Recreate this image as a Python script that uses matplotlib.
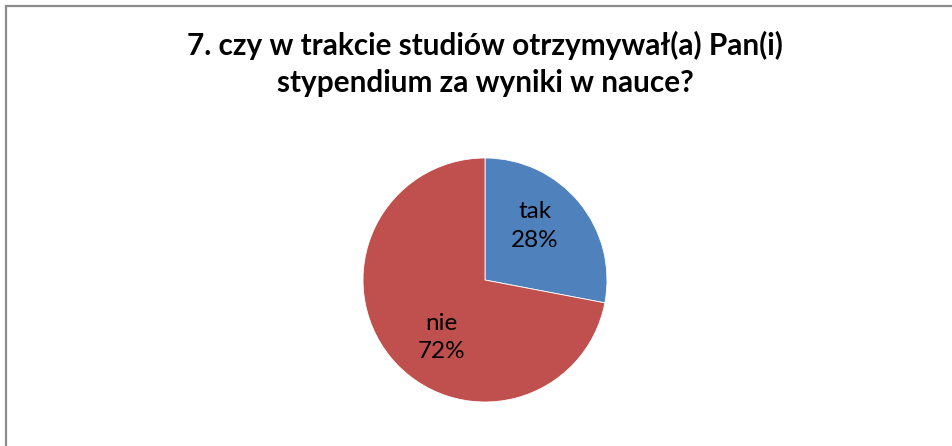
import matplotlib
matplotlib.use("Agg")
import matplotlib.pyplot as plt
from matplotlib.lines import Line2D

# dane z wykresu
title = "7. czy w trakcie studiów otrzymywał(a) Pan(i)\nstypendium za wyniki w nauce?"
labels = ["tak", "nie"]
values = [28, 72]
colors = ["#4F81BD", "#C0504D"]
# położenie etykiet (w promieniach koła)
label_pos = [(0.41, 0.44), (-0.36, -0.47)]

plt.rcParams['font.family'] = ['Lato', 'DejaVu Sans']

W, H = 953, 446
fig = plt.figure(figsize=(W / 100, H / 100), dpi=100)

# ramka (tylko góra i lewa strona widoczne)
fig.add_artist(Line2D([6 / W, 1], [1 - 6 / H, 1 - 6 / H], color="#8c8c8c", lw=1.6))
fig.add_artist(Line2D([6 / W, 6 / W], [0, 1 - 6 / H], color="#8c8c8c", lw=1.6))

fig.text(485 / W, 1 - 31 / H, title, ha="center", va="top",
         fontsize=21.4, fontweight="bold", linespacing=1.4)

r = 122
ax = fig.add_axes([(485 - r) / W, (H - 280 - r) / H, 2 * r / W, 2 * r / H])
wedges, _ = ax.pie(values, colors=colors, startangle=90, counterclock=False,
                   wedgeprops=dict(edgecolor="white", linewidth=0.6))
for lab, v, (x, y) in zip(labels, values, label_pos):
    ax.text(x, y, f"{lab}\n{v}%", ha="center", va="center", fontsize=17.5,
            linespacing=1.45, color="black")
ax.set_xlim(-1, 1)
ax.set_ylim(-1, 1)
ax.set_aspect("equal")
ax.axis("off")

fig.savefig("out.png", dpi=100)
